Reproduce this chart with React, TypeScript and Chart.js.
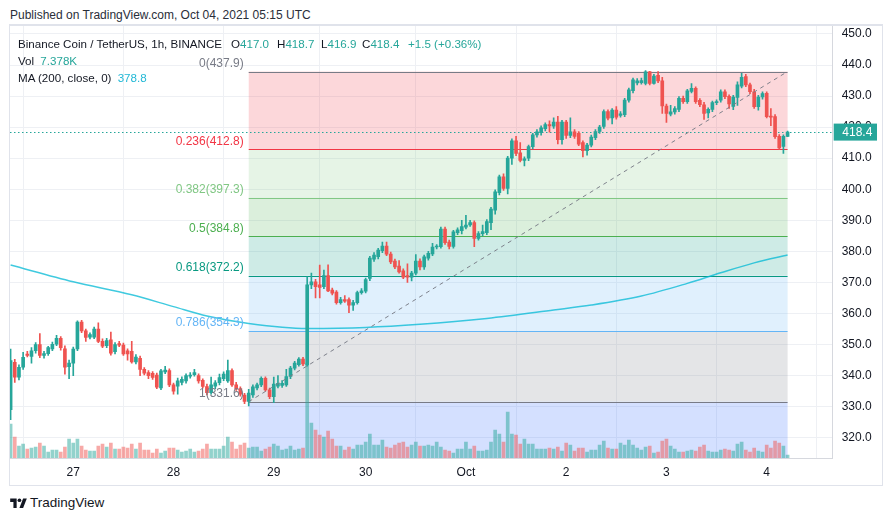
import { useEffect, useRef } from "react";
import { Chart, registerables } from "chart.js";

Chart.register(...registerables);

// ---------- DATA (BNB/USDT 1h, Sep 26 09:00 -> Oct 04 05:00, gaps compressed) ----------
const opens = [
  329.0, 344.3, 339.5, 342.7, 346.9, 346.2, 348.0, 350.0, 346.5, 347.1,
  348.6, 350.1, 352.0, 348.6, 342.9, 344.0, 348.6, 357.2, 354.4, 352.4,
  352.4, 355.0, 351.0, 349.6, 351.5, 347.7, 350.3, 349.8, 348.0, 347.8,
  344.4, 345.6, 342.0, 341.0, 340.7, 340.2, 336.0, 341.2, 341.6, 337.0,
  336.6, 337.8, 338.3, 339.8, 340.3, 340.0, 338.5, 336.5, 334.5, 336.6,
  337.7, 339.0, 338.3, 341.6, 337.0, 335.8, 333.7, 331.7, 333.8, 336.0,
  337.0, 339.1, 335.4, 333.2, 336.6, 336.8, 337.0, 339.7, 342.4, 343.5,
  345.3, 343.4, 369.2, 370.2, 369.2, 368.6, 372.2, 367.5, 366.9, 363.5,
  364.5, 364.5, 362.7, 363.5, 366.7, 367.2, 371.3, 377.5, 378.3, 380.2,
  381.7, 379.1, 376.9, 375.3, 373.7, 372.2, 371.7, 373.0, 376.9, 375.0,
  377.8, 379.2, 381.4, 381.5, 387.2, 383.0, 381.6, 386.0, 386.7, 387.8,
  388.5, 389.3, 384.2, 385.7, 386.0, 389.2, 393.3, 398.9, 404.0, 400.3,
  410.0, 415.6, 411.7, 409.3, 410.0, 413.7, 417.5, 418.2, 419.5, 420.8,
  420.3, 421.6, 416.0, 421.6, 417.3, 418.5, 418.0, 415.0, 412.4, 414.2,
  416.6, 418.6, 420.2, 425.0, 423.0, 425.5, 423.8, 424.0, 428.7, 431.7,
  434.2, 434.3, 434.1, 437.8, 434.1, 436.7, 434.9, 426.8, 424.2, 424.9,
  425.7, 429.3, 428.2, 431.5, 432.5, 428.6, 427.2, 424.6, 425.7, 427.9,
  428.7, 431.4, 429.9, 426.7, 429.6, 433.2, 436.3, 433.6, 431.4, 426.6,
  429.7, 430.9, 423.4, 423.4, 417.0, 413.8, 417.0,
];
const highs = [
  348.5, 345.2, 343.5, 347.5, 347.8, 349.0, 350.6, 353.5, 347.8, 349.4,
  350.8, 353.0, 352.6, 349.6, 345.0, 349.2, 357.6, 357.8, 355.0, 353.8,
  355.6, 357.0, 351.8, 352.0, 354.0, 350.6, 351.0, 350.5, 348.6, 351.0,
  346.8, 346.3, 342.6, 341.6, 341.3, 340.8, 342.0, 343.0, 342.2, 337.6,
  339.2, 339.6, 340.6, 341.0, 342.0, 340.6, 339.0, 337.3, 339.5, 338.4,
  340.5, 341.2, 345.0, 342.2, 337.8, 336.4, 334.3, 335.6, 337.0, 337.6,
  339.6, 339.6, 336.0, 339.5, 340.0, 338.4, 342.0, 343.0, 344.6, 345.8,
  345.9, 371.8, 373.0, 371.0, 375.6, 374.0, 375.7, 368.2, 367.4, 365.2,
  365.8, 365.0, 364.2, 367.2, 368.0, 371.4, 378.4, 379.6, 381.0, 383.0,
  383.0, 379.8, 377.5, 377.0, 374.4, 376.0, 373.6, 379.0, 377.6, 378.8,
  380.0, 382.6, 382.2, 387.8, 387.8, 383.6, 386.8, 387.6, 390.0, 391.6,
  390.0, 389.8, 386.4, 388.5, 390.2, 394.2, 399.8, 404.6, 405.0, 410.6,
  416.2, 417.0, 415.0, 410.4, 414.2, 418.0, 419.2, 420.4, 421.4, 422.0,
  423.0, 423.5, 422.2, 422.2, 423.0, 419.2, 418.6, 415.6, 414.8, 417.4,
  419.2, 420.6, 425.6, 425.6, 426.0, 426.6, 425.0, 429.3, 432.6, 435.8,
  435.6, 435.8, 438.2, 438.0, 437.0, 437.9, 436.0, 427.4, 427.0, 426.6,
  429.8, 430.0, 432.2, 434.0, 433.0, 429.2, 428.0, 426.2, 428.4, 428.8,
  432.0, 432.0, 430.4, 430.2, 434.6, 437.3, 437.0, 434.2, 432.2, 430.2,
  431.4, 431.4, 426.0, 424.0, 417.6, 417.5, 418.7,
];
const lows = [
  325.8, 337.8, 338.6, 342.0, 346.0, 344.0, 347.2, 345.8, 345.6, 346.5,
  348.0, 349.6, 348.2, 340.5, 339.0, 340.0, 348.0, 353.8, 351.0, 351.8,
  351.9, 350.6, 349.0, 349.0, 346.6, 347.0, 349.3, 346.5, 345.0, 344.0,
  343.8, 340.0, 340.2, 339.0, 338.8, 335.8, 335.5, 340.6, 336.4, 334.0,
  334.0, 337.0, 337.6, 339.2, 339.8, 337.6, 336.0, 333.8, 334.0, 335.8,
  337.0, 338.4, 337.8, 336.5, 335.2, 333.4, 331.0, 330.2, 333.0, 335.4,
  336.4, 335.0, 332.6, 331.3, 336.0, 336.2, 336.5, 339.0, 341.8, 343.0,
  343.2, 343.0, 368.0, 365.0, 365.0, 368.0, 367.0, 366.0, 363.0, 363.0,
  363.6, 360.3, 361.0, 363.0, 366.2, 366.6, 370.6, 376.8, 377.6, 379.6,
  378.6, 376.0, 374.4, 373.0, 371.2, 370.0, 370.5, 372.4, 374.0, 374.2,
  377.2, 378.6, 380.8, 381.0, 382.2, 380.8, 381.0, 385.4, 385.6, 387.2,
  388.0, 381.5, 383.6, 385.0, 385.4, 387.0, 392.0, 398.2, 399.6, 398.5,
  408.0, 410.8, 408.8, 407.5, 409.2, 413.0, 416.8, 417.4, 418.8, 418.4,
  419.6, 414.6, 414.5, 416.4, 416.6, 416.4, 414.0, 410.4, 411.0, 413.6,
  416.0, 418.0, 419.6, 422.3, 421.0, 422.6, 423.2, 423.4, 428.0, 431.0,
  433.6, 433.8, 433.6, 433.6, 433.8, 434.3, 424.4, 421.5, 423.6, 424.2,
  425.0, 427.6, 427.6, 431.0, 427.6, 426.6, 422.5, 423.0, 425.0, 427.2,
  428.0, 429.2, 426.0, 425.6, 427.0, 432.6, 433.0, 430.8, 426.0, 425.5,
  429.0, 423.0, 420.5, 416.4, 412.8, 411.5, 416.9,
];
const closes = [
  344.8, 339.5, 342.7, 345.9, 346.5, 348.0, 350.0, 346.5, 347.1, 349.0,
  350.1, 352.0, 349.0, 342.7, 344.0, 348.5, 357.2, 354.4, 352.3, 353.2,
  355.0, 351.0, 349.5, 351.3, 347.2, 350.0, 349.8, 347.0, 347.0, 344.4,
  346.0, 342.0, 340.8, 340.0, 339.4, 336.3, 341.5, 341.8, 337.0, 335.0,
  338.3, 338.8, 340.0, 340.2, 341.0, 338.3, 336.5, 334.5, 337.0, 337.7,
  339.4, 340.5, 341.6, 337.0, 335.8, 334.0, 331.7, 334.4, 336.4, 337.0,
  339.1, 335.4, 333.2, 337.3, 337.5, 337.5, 339.7, 342.4, 344.0, 345.3,
  343.8, 369.2, 370.2, 368.6, 368.4, 372.2, 367.3, 366.5, 363.5, 364.5,
  364.0, 362.7, 363.5, 366.7, 367.3, 370.9, 377.8, 378.8, 380.4, 381.7,
  379.1, 376.6, 375.0, 373.4, 371.7, 371.7, 373.0, 376.9, 375.0, 378.2,
  379.4, 381.4, 381.7, 387.2, 382.8, 381.6, 386.3, 386.9, 388.0, 388.5,
  389.3, 384.2, 385.7, 386.4, 389.6, 393.6, 399.2, 404.0, 400.3, 410.0,
  415.6, 411.5, 409.3, 409.8, 413.7, 417.5, 418.5, 419.8, 420.8, 420.4,
  421.6, 416.0, 421.6, 417.3, 418.5, 417.0, 414.5, 412.4, 414.2, 416.8,
  418.6, 420.0, 425.0, 422.9, 425.5, 423.2, 424.3, 428.7, 432.0, 435.2,
  434.9, 435.0, 437.8, 434.1, 436.4, 434.9, 426.8, 424.4, 424.9, 426.0,
  429.3, 428.2, 431.7, 432.5, 428.2, 427.2, 424.4, 425.7, 427.9, 428.2,
  431.4, 429.8, 427.5, 429.7, 433.6, 436.0, 433.6, 431.4, 426.6, 429.7,
  430.8, 423.4, 423.2, 416.9, 413.3, 417.0, 418.4,
];
const volumes = [
  85.0, 52.5, 30.0, 35.0, 22.5, 25.0, 27.5, 37.5, 30.0, 15.0,
  20.0, 20.0, 15.0, 27.5, 47.5, 37.5, 47.5, 30.0, 20.0, 17.5,
  17.5, 30.0, 35.0, 27.5, 37.5, 22.5, 22.5, 27.5, 25.0, 35.0,
  22.5, 37.5, 20.0, 20.0, 12.5, 22.5, 12.5, 17.5, 25.0, 25.0,
  20.0, 15.0, 17.5, 22.5, 15.0, 17.5, 22.5, 35.0, 22.5, 22.5,
  22.5, 30.0, 52.5, 40.0, 22.5, 32.5, 37.5, 25.0, 27.5, 27.5,
  17.5, 22.5, 27.5, 35.0, 30.0, 20.0, 22.5, 30.0, 20.0, 22.5,
  25.0, 237.5, 87.5, 70.0, 57.5, 52.5, 67.5, 47.5, 30.0, 30.0,
  20.0, 27.5, 22.5, 32.5, 32.5, 40.0, 60.0, 32.5, 32.5, 45.0,
  27.5, 25.0, 32.5, 37.5, 40.0, 27.5, 32.5, 40.0, 30.0, 30.0,
  32.5, 30.0, 40.0, 27.5, 20.0, 17.5, 12.5, 22.5, 22.5, 40.0,
  22.5, 30.0, 17.5, 17.5, 20.0, 40.0, 70.0, 60.0, 40.0, 115.0,
  60.0, 57.5, 35.0, 47.5, 35.0, 35.0, 22.5, 22.5, 22.5, 25.0,
  22.5, 27.5, 17.5, 37.5, 32.5, 17.5, 25.0, 25.0, 15.0, 20.0,
  20.0, 32.5, 42.5, 25.0, 22.5, 22.5, 37.5, 32.5, 45.0, 32.5,
  25.0, 20.0, 27.5, 30.0, 12.5, 15.0, 42.5, 47.5, 30.0, 22.5,
  15.0, 15.0, 17.5, 20.0, 17.5, 27.5, 32.5, 17.5, 15.0, 15.0,
  20.0, 22.5, 20.0, 17.5, 35.0, 40.0, 20.0, 15.0, 25.0, 17.5,
  15.0, 32.5, 25.0, 42.5, 37.5, 30.0, 7.378,
];

// Last-bar change as shown in the legend
const lastChange = 1.5;
const lastChangePct = 0.36;

const dayTickIdx = [15, 39, 63, 85, 109, 133, 157, 181];
const dayTickLabels = ["27", "28", "29", "30", "Oct", "2", "3", "4"];
const priceTicks = [320, 330, 340, 350, 360, 370, 380, 390, 400, 410, 420, 430, 440, 450];

// MA (200) values read at selected candles
const maIdx = [0, 15, 29, 39, 47, 57, 71, 85, 98, 114, 130, 139, 151, 162, 170, 178, 186];
const maVals = [375.6, 370.2, 366.0, 362.2, 359.2, 356.8, 355.2, 355.5, 356.5, 358.4, 361.1, 362.7, 365.6, 369.7, 373.1, 376.3, 378.8];

// Fibonacci retracement
const fibRatios = [0, 0.236, 0.382, 0.5, 0.618, 0.786, 1, 1.618];
const fibPrices = [437.9, 412.8, 397.3, 384.8, 372.2, 354.3, 331.6, 265.9];
const fibStartIdx = 57;
const fibEndIdx = 186;

// ---------- STYLE ----------
const FONT = "'Liberation Sans', Arial, sans-serif";
const UP = "#26a69a";
const DOWN = "#ef5350";
const UP_VOL = "rgba(38,166,154,0.5)";
const DOWN_VOL = "rgba(239,83,80,0.5)";
const FIB_COLORS = ["#787b86", "#f23645", "#81c784", "#4caf50", "#089981", "#64b5f6", "#787b86", "#2962ff"];
const GRID = "#eef0f4";
const TEXT = "#131722";

function rgba(hex: string, a: number) {
  const n = parseInt(hex.slice(1), 16);
  return `rgba(${(n >> 16) & 255},${(n >> 8) & 255},${n & 255},${a})`;
}

const fibPlugin = {
  id: "fib",
  beforeDatasetsDraw(chart: any) {
    const { ctx, chartArea, scales } = chart;
    const x = scales.x;
    const y = scales.y;
    ctx.save();
    ctx.beginPath();
    ctx.rect(chartArea.left, chartArea.top, chartArea.right - chartArea.left, chartArea.bottom - chartArea.top);
    ctx.clip();
    const x0 = x.getPixelForValue(fibStartIdx);
    const x1 = x.getPixelForValue(fibEndIdx);
    for (let i = 0; i < fibPrices.length - 1; i++) {
      const t = y.getPixelForValue(fibPrices[i]);
      const b = y.getPixelForValue(fibPrices[i + 1]);
      ctx.fillStyle = rgba(FIB_COLORS[i + 1], 0.2);
      ctx.fillRect(x0, t, x1 - x0, b - t);
    }
    for (let i = 0; i < fibPrices.length; i++) {
      const py = Math.round(y.getPixelForValue(fibPrices[i])) + 0.5;
      ctx.strokeStyle = FIB_COLORS[i];
      ctx.lineWidth = 1;
      ctx.beginPath();
      ctx.moveTo(x0, py);
      ctx.lineTo(x1, py);
      ctx.stroke();
    }
    const last = closes[closes.length - 1];
    const ly = Math.round(y.getPixelForValue(last)) + 0.5;
    ctx.strokeStyle = UP;
    ctx.setLineDash([1.5, 2.5]);
    ctx.beginPath();
    ctx.moveTo(chartArea.left, ly);
    ctx.lineTo(chartArea.right, ly);
    ctx.stroke();
    ctx.restore();
  },
  afterDatasetsDraw(chart: any) {
    const { ctx, chartArea, scales } = chart;
    const x = scales.x;
    const y = scales.y;
    ctx.save();
    ctx.beginPath();
    ctx.rect(chartArea.left, chartArea.top, chartArea.right - chartArea.left, chartArea.bottom - chartArea.top);
    ctx.clip();
    const x0 = x.getPixelForValue(fibStartIdx);
    ctx.font = `12px ${FONT}`;
    ctx.textAlign = "right";
    ctx.textBaseline = "bottom";
    for (let i = 0; i < fibPrices.length; i++) {
      const py = y.getPixelForValue(fibPrices[i]);
      ctx.fillStyle = FIB_COLORS[i];
      ctx.fillText(`${fibRatios[i]}(${fibPrices[i].toFixed(1)})`, x0 - 5, py - 2);
    }
    ctx.restore();
  },
  afterDraw(chart: any) {
    const { ctx, chartArea, scales, width } = chart;
    const y = scales.y;
    const last = closes[closes.length - 1];
    const py = y.getPixelForValue(last);
    ctx.save();
    ctx.fillStyle = UP;
    const left = chartArea.right + 1;
    const right = width - 5;
    ctx.fillRect(left, py - 8.5, right - left, 17);
    ctx.fillStyle = "#ffffff";
    ctx.font = `12px ${FONT}`;
    ctx.textAlign = "center";
    ctx.textBaseline = "middle";
    ctx.fillText(last.toFixed(1), (left + right) / 2 + 2, py + 0.5);
    ctx.restore();
  },
};

function CandleChart() {
  const ref = useRef<HTMLCanvasElement | null>(null);
  useEffect(() => {
    if (!ref.current) return;
    const idx = closes.map((_, i) => i);
    const isUp = (i: number) => closes[i] >= opens[i];
    const chart = new Chart(ref.current, {
      type: "bar",
      data: {
        datasets: [
          {
            type: "line",
            label: "trend",
            data: [
              { x: fibStartIdx, y: fibPrices[6] },
              { x: fibEndIdx, y: fibPrices[0] },
            ],
            borderColor: "rgba(120,123,134,0.95)",
            borderWidth: 1,
            borderDash: [4, 4],
            pointRadius: 0,
            order: 0,
          } as any,
          {
            type: "bar",
            label: "body",
            data: idx.map((i) => ({ x: i, y: [Math.min(opens[i], closes[i]), Math.max(opens[i], closes[i])] })),
            backgroundColor: idx.map((i) => (isUp(i) ? UP : DOWN)),
            barThickness: 3,
            minBarLength: 1,
            grouped: false,
            order: 1,
          } as any,
          {
            type: "bar",
            label: "wick",
            data: idx.map((i) => ({ x: i, y: [lows[i], highs[i]] })),
            backgroundColor: idx.map((i) => (isUp(i) ? UP : DOWN)),
            barThickness: 1,
            grouped: false,
            order: 2,
          } as any,
          {
            type: "line",
            label: "MA",
            data: maIdx.map((v, i) => ({ x: v, y: maVals[i] })),
            borderColor: "rgba(0,184,212,0.75)",
            borderWidth: 1.5,
            pointRadius: 0,
            cubicInterpolationMode: "monotone",
            order: 3,
          } as any,
          {
            type: "bar",
            label: "Vol",
            yAxisID: "yv",
            data: idx.map((i) => ({ x: i, y: volumes[i] })),
            backgroundColor: idx.map((i) => (isUp(i) ? UP_VOL : DOWN_VOL)),
            barThickness: 3,
            grouped: false,
            order: 4,
          } as any,
        ],
      },
      options: {
        animation: false,
        responsive: false,
        maintainAspectRatio: false,
        layout: { padding: 0 },
        plugins: { legend: { display: false }, tooltip: { enabled: false } },
        scales: {
          x: {
            type: "linear",
            min: -0.144,
            max: 196.8,
            offset: false,
            afterBuildTicks: (s: any) => {
              s.ticks = dayTickIdx.map((v) => ({ value: v }));
            },
            afterFit: (s: any) => {
              s.height = 27;
              s.paddingLeft = 0;
              s.paddingRight = 0;
            },
            ticks: {
              autoSkip: false,
              maxRotation: 0,
              padding: 7,
              color: TEXT,
              font: { family: FONT, size: 12 },
              callback: (v: any) => {
                const k = dayTickIdx.indexOf(Number(v));
                return k >= 0 ? dayTickLabels[k] : "";
              },
            },
            grid: { color: GRID, drawTicks: false },
            border: { display: true, color: "#d6d8de" },
          },
          y: {
            type: "linear",
            position: "right",
            min: 313.47,
            max: 452.56,
            afterBuildTicks: (s: any) => {
              s.ticks = priceTicks.map((v) => ({ value: v }));
            },
            afterFit: (s: any) => {
              s.width = 49.3;
              s.paddingTop = 0;
              s.paddingBottom = 0;
            },
            ticks: {
              crossAlign: "near",
              padding: 9,
              color: TEXT,
              font: { family: FONT, size: 12 },
              callback: (v: any) => Number(v).toFixed(1),
            },
            grid: { color: GRID, drawTicks: false },
            border: { display: true, color: "#d6d8de" },
          },
          yv: { type: "linear", display: false, min: 0, max: 1080 },
        },
      } as any,
      plugins: [fibPlugin],
    });
    return () => chart.destroy();
  }, []);
  return <canvas ref={ref} width={872} height={459} style={{ display: "block", width: 872, height: 459 }} />;
}

const abs = (left: number, top: number, extra: any = {}) => ({
  position: "absolute" as const,
  left,
  top,
  lineHeight: "16px",
  fontSize: 11.6,
  fontFamily: FONT,
  color: TEXT,
  whiteSpace: "nowrap" as const,
  ...extra,
});

export default function App() {
  const last = closes.length - 1;
  return (
    <div style={{ position: "fixed", left: 0, top: 0, width: 892, height: 521, background: "#ffffff", overflow: "hidden" }}>
      <div style={abs(10, 7, { color: "#2a2e39", fontSize: 12 })}>Published on TradingView.com, Oct 04, 2021 05:15 UTC</div>
      <div
        style={{
          position: "absolute",
          left: 9,
          top: 24,
          width: 872,
          height: 459,
          border: "1px solid #e0e3eb",
          borderTopWidth: 2,
        }}
      >
        <CandleChart />
        <div style={abs(8, 10)}>Binance Coin / TetherUS, 1h, BINANCE</div>
        <div style={abs(221, 10)}>
          O<span style={{ color: UP }}>{opens[last].toFixed(1)}</span>
        </div>
        <div style={abs(267, 10)}>
          H<span style={{ color: UP }}>{highs[last].toFixed(1)}</span>
        </div>
        <div style={abs(311, 10)}>
          L<span style={{ color: UP }}>{lows[last].toFixed(1)}</span>
        </div>
        <div style={abs(352, 10)}>
          C<span style={{ color: UP }}>{closes[last].toFixed(1)}</span>
        </div>
        <div style={abs(398, 10, { color: UP })}>
          {`+${lastChange.toFixed(1)} (+${lastChangePct.toFixed(2)}%)`}
        </div>
        <div style={abs(8, 27)}>
          Vol <span style={{ color: UP, marginLeft: 3 }}>{volumes[last].toFixed(3)}K</span>
        </div>
        <div style={abs(8, 44)}>
          MA (200, close, 0) <span style={{ color: "#22b8d6", marginLeft: 3 }}>{maVals[maVals.length - 1].toFixed(1)}</span>
        </div>
      </div>
      <div style={{ position: "absolute", left: 10, top: 496, display: "flex", alignItems: "center" }}>
        <svg width="17" height="12" viewBox="0 0 36 26">
          <path d="M14 24H7V11H0V3h14v21z" fill="#131722" />
          <circle cx="20" cy="7" r="4" fill="#131722" />
          <path d="M28 24h-8l8-21h8l-8 21z" fill="#131722" />
        </svg>
        <span style={{ marginLeft: 3, fontFamily: FONT, fontSize: 13.5, color: TEXT, lineHeight: "14px" }}>TradingView</span>
      </div>
    </div>
  );
}
